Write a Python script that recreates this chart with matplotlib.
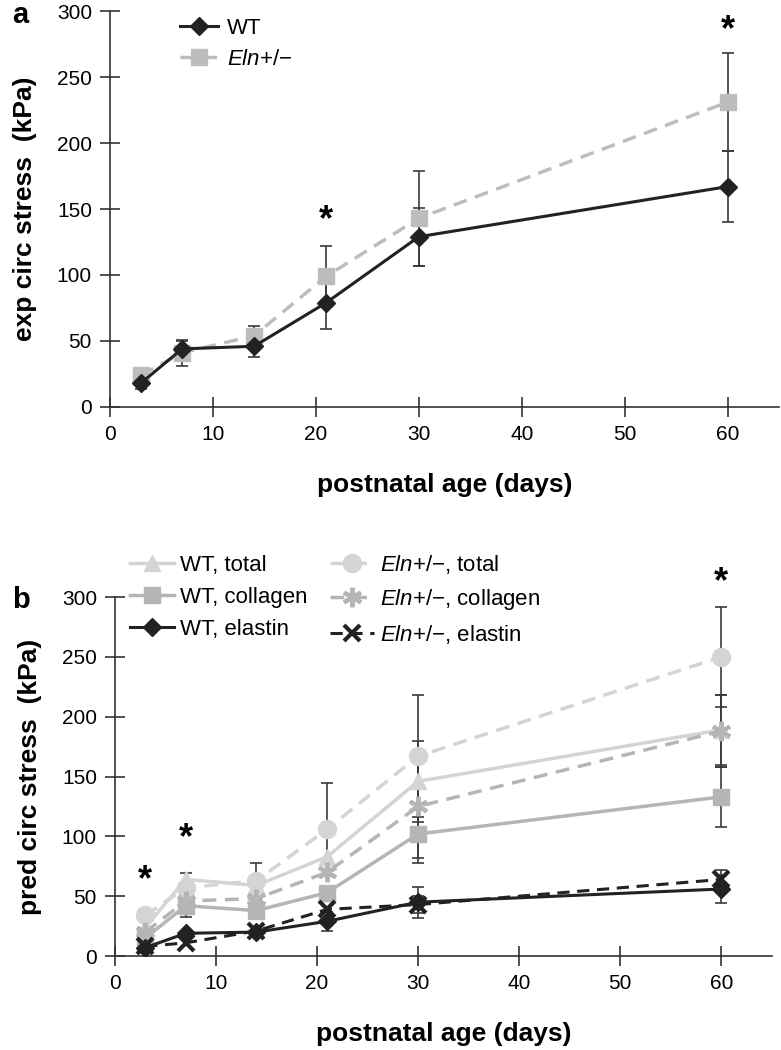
import matplotlib
matplotlib.use('Agg')
import matplotlib.pyplot as plt
import numpy as np

plt.rcParams['font.family'] = ['Liberation Sans', 'DejaVu Sans']
plt.rcParams['mathtext.fontset'] = 'custom'
plt.rcParams['mathtext.rm'] = 'Liberation Sans'
plt.rcParams['mathtext.it'] = 'Liberation Sans:italic'

#data
days = [3, 7, 14, 21, 30, 60]

# panel a - experimental stress
exp_wt = [18, 44, 46, 79, 129, 167]
exp_wt_err = [4, 6, 8, 20, 22, 27]
exp_eln = [24, 41, 54, 99, 143, 231]
exp_eln_err = [4, 10, 7, 23, 36, 37]
sig_a_days = [21, 60]
sig_a_y = [141, 285]

# panel b - predicted stress (0 = no error bar visible)
wt_total = [24, 64, 59, 83, 146, 189]
wt_total_err = [0, 5, 0, 0, 34, 29]
eln_total = [34, 57, 63, 106, 167, 250]
eln_total_err = [0, 0, 15, 39, 51, 42]
wt_coll = [15, 42, 38, 53, 102, 133]
wt_coll_err = [0, 9, 0, 0, 20, 25]
eln_coll = [20, 46, 48, 70, 125, 188]
eln_coll_err = [0, 0, 0, 0, 47, 30]
wt_ela = [7, 19, 20, 29, 45, 56]
wt_ela_err = [0, 0, 0, 8, 13, 12]
eln_ela = [8, 11, 21, 39, 43, 64]
eln_ela_err = [0, 0, 0, 0, 7, 8]
sig_b_days = [3, 7, 60]
sig_b_y = [63, 98, 312]

ELN = r'$\mathit{Eln{+}/{-}}$'
err_col = '#3a3a3a'


def errbars(ax, y, e):
    d = np.array(days)
    y = np.array(y, dtype=float)
    e = np.array(e, dtype=float)
    m = e > 0
    if m.any():
        ax.errorbar(d[m], y[m], yerr=e[m], fmt='none', ecolor=err_col,
                    elinewidth=1.2, capsize=4.5, capthick=1.2, zorder=1)


def style_axes(ax):
    for s in ['top', 'right']:
        ax.spines[s].set_visible(False)
    for s in ['left', 'bottom']:
        ax.spines[s].set_color('#333333')
        ax.spines[s].set_linewidth(1.2)
    ax.set_xlim(0, 65)
    ax.set_ylim(0, 300)
    ax.set_xticks(range(0, 61, 10))
    ax.set_yticks(range(0, 301, 50))
    ax.tick_params(direction='inout', length=14, width=1.2, color='#333333',
                   labelsize=15, pad=6)
    ax.set_xlabel('postnatal age (days)', fontsize=19, fontweight='bold', labelpad=21)
    ax.patch.set_alpha(0)


fig = plt.figure(figsize=(7.81, 10.5), dpi=100)

# ---------- panel a ----------
ax1 = fig.add_axes([0.1408, 0.6124, 0.857, 0.3771])
errbars(ax1, exp_wt, exp_wt_err)
errbars(ax1, exp_eln, exp_eln_err)
ax1.plot(days, exp_eln, '--', color='#bdbdbd', lw=2.5, dashes=(4, 2.5),
         marker='s', ms=12, label=ELN, zorder=2)
ax1.plot(days, exp_wt, '-', color='#222222', lw=2.2,
         marker='D', ms=9, label='WT', zorder=3)
for x, y in zip(sig_a_days, sig_a_y):
    ax1.text(x, y, '*', ha='center', va='center', fontsize=26, fontweight='bold')
style_axes(ax1)
ax1.set_ylabel('exp circ stress  (kPa)', fontsize=19, fontweight='bold', labelpad=14)
h, l = ax1.get_legend_handles_labels()
ax1.legend(h[::-1], l[::-1], loc='upper left', frameon=False, fontsize=16,
           handlelength=1.7, handletextpad=0.4, labelspacing=0.45,
           borderpad=0, borderaxespad=0,
           bbox_to_anchor=(180 / 781, 1 - 18 / 1050), bbox_transform=fig.transFigure)
fig.text(0.015, 0.999, 'a', fontsize=21, fontweight='bold', va='top')

# ---------- panel b ----------
ax2 = fig.add_axes([0.1472, 0.0895, 0.841, 0.3419])
for y, e in [(wt_total, wt_total_err), (eln_total, eln_total_err),
             (wt_coll, wt_coll_err), (eln_coll, eln_coll_err),
             (wt_ela, wt_ela_err), (eln_ela, eln_ela_err)]:
    errbars(ax2, y, e)

ax2.plot(days, wt_total, '-', color='#d4d4d4', lw=2.5, marker='^', ms=12,
         label='WT, total', zorder=2)
ax2.plot(days, wt_coll, '-', color='#b5b5b5', lw=2.5, marker='s', ms=12,
         label='WT, collagen', zorder=2)
ax2.plot(days, wt_ela, '-', color='#222222', lw=2.2, marker='D', ms=9,
         label='WT, elastin', zorder=3)
ax2.plot(days, eln_total, '--', color='#d4d4d4', lw=2.5, dashes=(4, 2.5),
         marker='o', ms=13, label=ELN + ', total', zorder=2)
ax2.plot(days, eln_coll, '--', color='#b5b5b5', lw=2.5, dashes=(4, 2.5),
         marker=(6, 2, 0), ms=14, mew=3, label=ELN + ', collagen', zorder=2)
ax2.plot(days, eln_ela, '--', color='#222222', lw=2.2, dashes=(4, 2.5),
         marker='x', ms=11, mew=3, label=ELN + ', elastin', zorder=3)
for x, y in zip(sig_b_days, sig_b_y):
    ax2.text(x, y, '*', ha='center', va='center', fontsize=26, fontweight='bold')
style_axes(ax2)
ax2.set_ylabel('pred circ stress  (kPa)', fontsize=19, fontweight='bold', labelpad=14)
ax2.legend(loc='upper left', ncol=2, frameon=False, fontsize=16,
           handlelength=2.0, handletextpad=0.25, labelspacing=0.5,
           columnspacing=1.0, borderpad=0, borderaxespad=0,
           bbox_to_anchor=(130 / 781, 1 - 553 / 1050), bbox_transform=fig.transFigure)
fig.text(0.015, 1 - 586 / 1050, 'b', fontsize=21, fontweight='bold', va='top')

plt.savefig('out.png', dpi=100)
